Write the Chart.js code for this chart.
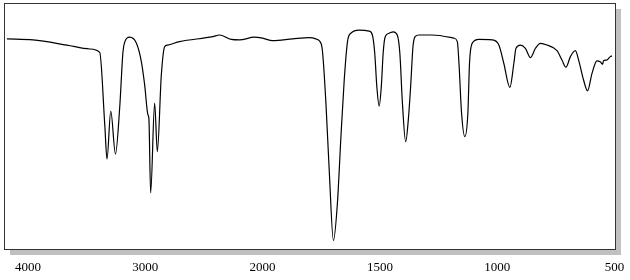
<!DOCTYPE html>
<html>
<head>
<meta charset="utf-8">
<script src="https://cdn.jsdelivr.net/npm/chart.js@4.4.1/dist/chart.umd.min.js"></script>
<style>
  html, body { margin: 0; padding: 0; background: #fff; }
  #wrap { width: 630px; height: 280px; position: relative; }
</style>
</head>
<body>
<div id="wrap"><canvas id="c" width="630" height="280"></canvas></div>
<script>
// Wavenumbers (cm-1), high to low
const wavenumbers = [
  4179, 3957, 3668, 3473, 3388, 3345, 3326, 3294, 3254, 3218, 3190, 3175, 3133, 3076, 3033, 3005,
  2977, 2969, 2954, 2920, 2897, 2863, 2835, 2810, 2708, 2424, 2367, 2268, 2197, 2070, 2000,
  1957, 1872, 1801, 1773, 1751, 1744, 1730, 1716, 1698, 1681, 1666, 1652, 1638, 1624, 1588,
  1546, 1532, 1522, 1513, 1503, 1494, 1486, 1478, 1461, 1443, 1426, 1415, 1404, 1390, 1379,
  1369, 1359, 1350, 1333, 1277, 1184, 1170, 1163, 1152, 1138, 1125, 1118, 1107, 1078, 1022,
  993, 972, 946, 929, 920, 901, 880, 858, 837, 816, 788, 745, 724, 707, 688, 667, 653, 632,
  615, 596, 575, 561, 551, 547, 533, 518, 511
];
// Transmittance (%)
const transmittance = [
  85.4, 85.0, 82.9, 81.3, 79.9, 50.4, 36.6, 56.1, 38.6, 57.3, 80.1, 84.1, 86.1, 83.7, 76.1, 66.7,
  54.5, 53.1, 22.8, 59.3, 39.6, 70.7, 82.2, 82.9, 84.3, 86.3, 87.0, 85.2, 85.0, 86.1, 85.7,
  84.7, 85.4, 85.9, 85.4, 83.6, 79.7, 59.3, 32.1, 3.4, 18.7, 45.7, 68.7, 84.3, 87.7, 89.0,
  88.6, 87.0, 79.7, 66.0, 58.1, 66.0, 79.7, 86.1, 87.7, 88.3, 87.0, 79.7, 59.3, 43.6, 52.4,
  66.0, 82.2, 86.3, 87.0, 87.0, 85.7, 84.3, 75.6, 55.3, 45.7, 55.3, 75.6, 83.6, 85.2, 85.0,
  82.9, 75.5, 65.7, 75.5, 81.6, 82.9, 81.6, 77.8, 81.6, 83.6, 82.9, 80.6, 76.8, 73.9, 78.2, 80.6, 76.8, 68.7,
  64.3, 71.4, 76.5, 76.1, 75.1, 76.5, 76.8, 78.2, 78.5
];
const tickLabels = [4000, 3000, 2000, 1500, 1000, 500];

// IR convention: scale above 2000 cm-1 is compressed by a factor of 2
function toAxis(w) { return w > 2000 ? 2000 + (w - 2000) / 2 : w; }
function fromAxis(p) { return p > 2000 ? 2000 + (p - 2000) * 2 : p; }

const points = wavenumbers.map((w, i) => ({ x: toAxis(w), y: transmittance[i] }));

const framePlugin = {
  id: 'frame',
  beforeDraw(chart) {
    const { ctx, chartArea: a } = chart;
    ctx.save();
    ctx.fillStyle = '#fff';
    ctx.fillRect(0, 0, chart.width, chart.height);
    ctx.fillStyle = '#c0c0c0';
    ctx.fillRect(a.left + 6, a.bottom + 1, a.right - a.left, 5);
    ctx.fillRect(a.right + 1, a.top + 6, 5, a.bottom - a.top);
    ctx.fillStyle = '#fff';
    ctx.fillRect(a.left, a.top, a.right - a.left, a.bottom - a.top);
    ctx.restore();
  },
  afterDraw(chart) {
    const { ctx, chartArea: a } = chart;
    ctx.save();
    ctx.strokeStyle = '#333';
    ctx.lineWidth = 1;
    ctx.strokeRect(Math.round(a.left) + 0.5, Math.round(a.top) + 0.5,
      Math.round(a.right - a.left), Math.round(a.bottom - a.top));
    ctx.restore();
  }
};

new Chart(document.getElementById('c'), {
  type: 'line',
  data: {
    datasets: [{
      data: points,
      borderColor: '#000',
      borderWidth: 1.2,
      pointRadius: 0,
      fill: false,
      cubicInterpolationMode: 'monotone'
    }]
  },
  options: {
    responsive: false,
    animation: false,
    layout: { padding: { left: 4, right: 15, top: 3, bottom: 0 } },
    plugins: { legend: { display: false }, tooltip: { enabled: false } },
    scales: {
      x: {
        type: 'linear',
        reverse: true,
        min: 498,
        max: 3102,
        grid: { display: false, drawTicks: false },
        border: { display: false },
        afterBuildTicks(scale) {
          scale.ticks = tickLabels.map(v => ({ value: toAxis(v) }));
        },
        afterFit(scale) {
          scale.height = 31;
          scale.paddingLeft = 0;
          scale.paddingRight = 0;
        },
        ticks: {
          padding: 11,
          maxRotation: 0,
          autoSkip: false,
          color: '#000',
          font: { family: 'Liberation Serif', size: 13 },
          callback: (v) => String(fromAxis(v))
        }
      },
      y: {
        display: false,
        min: 0,
        max: 100
      }
    }
  },
  plugins: [framePlugin]
});
</script>
</body>
</html>
